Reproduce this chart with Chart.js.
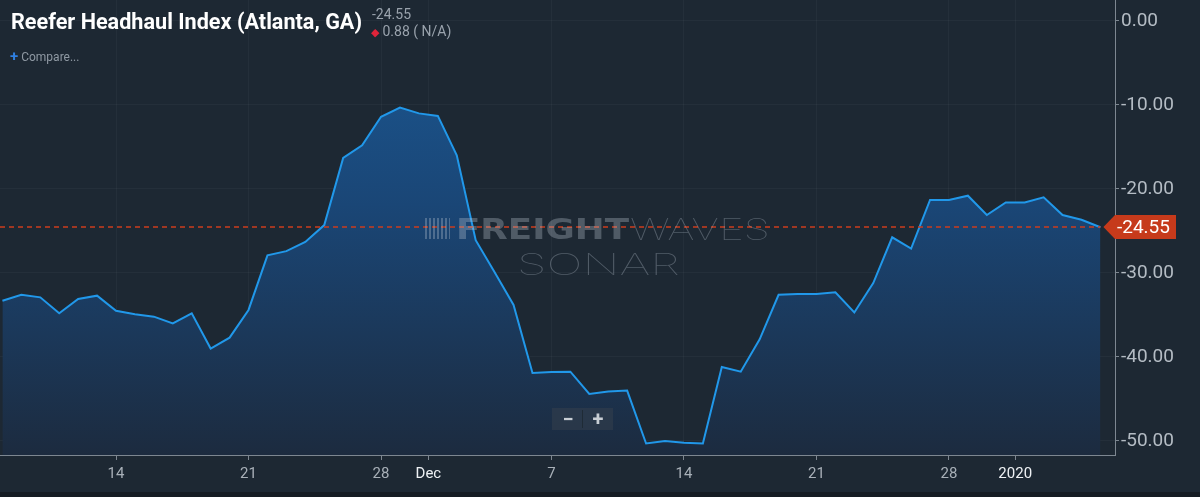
<!DOCTYPE html>
<html>
<head>
<meta charset="utf-8">
<script src="https://cdn.jsdelivr.net/npm/chart.js@4/dist/chart.umd.min.js"></script>
<style>
  html, body { margin: 0; padding: 0; background: #1d2833; overflow: hidden; }
  #wrap { position: relative; width: 1200px; height: 497px; font-family: Roboto, "Noto Sans", sans-serif; }
  canvas { position: absolute; left: 0; top: 0; }
  .ov { position: absolute; white-space: nowrap; transform-origin: 0 50%; }
  #title { left: 11px; top: 9px; font-size: 22px; font-weight: 700; color: #ffffff; line-height: 26px; }
  #last { left: 372px; top: 6px; font-size: 14px; color: #9aa3ad; line-height: 16px; }
  #chg { left: 371px; top: 23px; font-size: 14px; color: #9aa3ad; line-height: 16px; }
  #chg b { color: #e0243a; font-weight: 400; font-size: 11px; }
  #cmp { left: 10px; top: 49px; font-size: 12px; color: #8f99a3; line-height: 14px; }
  #cmp b { color: #2f7fe0; font-size: 15px; font-weight: 700; margin-right: 3px; }
  #wm1 { left: 456px; top: 214px; font-family: "DejaVu Sans", sans-serif; font-weight: 700; font-size: 29px; line-height: 30px; color: rgba(190,200,212,0.32); }
  #wm2 { left: 630px; top: 214px; font-family: Inter, "Open Sans", sans-serif; font-weight: 100; font-size: 30px; line-height: 30px; color: rgba(190,200,212,0.32); }
  #wm3 { left: 517px; top: 249px; font-family: Inter, "Open Sans", sans-serif; font-weight: 100; font-size: 30px; line-height: 30px; color: rgba(190,200,212,0.32); }
  #bars { position: absolute; left: 425px; top: 218px; width: 25px; height: 21px;
          background: repeating-linear-gradient(90deg, rgba(190,200,212,0.32) 0 2px, transparent 2px 4px); }
  #zoomer { position: absolute; left: 552px; top: 408px; width: 61px; height: 22px; background: rgba(52,64,77,0.55); }
  #zoomer span { position: absolute; top: 0; width: 30px; text-align: center; color: #c8ced4; font-size: 20px; font-weight: 700; line-height: 22px; }
  #zoomer i { position: absolute; left: 30px; top: 2px; width: 1px; height: 18px; background: rgba(30,40,50,0.8); }
</style>
</head>
<body>
<div id="wrap">
  <canvas id="chart" width="1200" height="497"></canvas>
  <div id="bars"></div>
  <div class="ov" id="wm1">FREIGHT</div>
  <div class="ov" id="wm2">WAVES</div>
  <div class="ov" id="wm3">SONAR</div>
  <div id="zoomer"><span style="left:1px">&minus;</span><i></i><span style="left:31px">+</span></div>
  <div class="ov" id="title">Reefer Headhaul Index (Atlanta, GA)</div>
  <div class="ov" id="last">-24.55</div>
  <div class="ov" id="chg"><b>&#9670;</b> 0.88 ( N/A)</div>
  <div class="ov" id="cmp"><b>+</b>Compare...</div>
</div>
<script>
// Daily observations
const dates = [
    '2019-11-08', '2019-11-09', '2019-11-10', '2019-11-11', '2019-11-12', '2019-11-13', '2019-11-14',
    '2019-11-15', '2019-11-16', '2019-11-17', '2019-11-18', '2019-11-19', '2019-11-20', '2019-11-21',
    '2019-11-22', '2019-11-23', '2019-11-24', '2019-11-25', '2019-11-26', '2019-11-27', '2019-11-28',
    '2019-11-29', '2019-11-30', '2019-12-01', '2019-12-02', '2019-12-03', '2019-12-04', '2019-12-05',
    '2019-12-06', '2019-12-07', '2019-12-08', '2019-12-09', '2019-12-10', '2019-12-11', '2019-12-12',
    '2019-12-13', '2019-12-14', '2019-12-15', '2019-12-16', '2019-12-17', '2019-12-18', '2019-12-19',
    '2019-12-20', '2019-12-21', '2019-12-22', '2019-12-23', '2019-12-24', '2019-12-25', '2019-12-26',
    '2019-12-27', '2019-12-28', '2019-12-29', '2019-12-30', '2019-12-31', '2020-01-01', '2020-01-02',
    '2020-01-03', '2020-01-04', '2020-01-05'
];
const values = [
    -33.3, -32.6, -32.9, -34.8, -33.1, -32.7, -34.5,
    -34.9, -35.2, -36.0, -34.8, -39.0, -37.7, -34.4,
    -27.9, -27.4, -26.3, -24.3, -16.3, -14.8, -11.4,
    -10.3, -11.0, -11.3, -16.0, -26.1, -29.9, -33.8,
    -41.9, -41.8, -41.75, -44.4, -44.1, -44.0, -50.3,
    -50.0, -50.2, -50.3, -41.2, -41.75, -37.9, -32.6,
    -32.5, -32.5, -32.3, -34.7, -31.2, -25.75, -27.1,
    -21.3, -21.3, -20.8, -23.1, -21.6, -21.6, -21.0,
    -23.1, -23.67, -24.55
];

// Axis ticks (month/year labels sit at the boundary before the 1st)
const xTickDates = ['2019-11-14', '2019-11-21', '2019-11-28', '2019-11-30T12:00', '2019-12-07',
                    '2019-12-14', '2019-12-21', '2019-12-28', '2019-12-31T12:00'];
const xTickLabels = ['14', '21', '28', 'Dec', '7', '14', '21', '28', '2020'];
const yTicks = [-50, -40, -30, -20, -10, 0];
const lastValue = -24.55;

const DAY = 86400000;
const origin = Date.parse('2019-11-01T00:00:00Z');
const toDay = s => (Date.parse(s.length > 10 ? s + ':00Z' : s + 'T00:00:00Z') - origin) / DAY;

const points = dates.map((d, i) => ({ x: toDay(d), y: values[i] }));
const xTicks = xTickDates.map(toDay);

// fitted so the 14th Nov sits at x=116 and days are ~18.93px apart
const xMin = 6.872, xMax = 65.77;

// fit the overlay texts to the widths seen in the reference
function fitWidth(id, w) {
    const el = document.getElementById(id);
    const nat = el.getBoundingClientRect().width;
    el.style.transform = 'scaleX(' + (w / nat) + ')';
}
fitWidth('title', 351);
fitWidth('wm1', 173);
fitWidth('wm2', 140);
fitWidth('wm3', 163);

const overlay = {
    id: 'overlay',
    beforeDraw(chart) {
        const c = chart.ctx;
        c.save();
        c.fillStyle = '#1d2833';
        c.fillRect(0, 0, chart.width, chart.height);
        c.fillStyle = '#151c23';
        c.fillRect(0, 492, chart.width, chart.height - 492);
        c.restore();
    },
    afterDatasetsDraw(chart) {
        const c = chart.ctx;
        const area = chart.chartArea;
        const y = Math.round(chart.scales.y.getPixelForValue(lastValue));
        const xEnd = chart.scales.x.getPixelForValue(points[points.length - 1].x);
        c.save();
        c.strokeStyle = '#cc3c1e';
        c.lineWidth = 1.5;
        c.setLineDash([5, 4]);
        c.beginPath();
        c.moveTo(area.left, y);
        c.lineTo(xEnd, y);
        c.stroke();
        c.setLineDash([]);

        // last value tag
        c.fillStyle = '#c63a1b';
        c.beginPath();
        c.moveTo(xEnd + 3, y);
        c.lineTo(area.right, y - 12);
        c.lineTo(1176, y - 12);
        c.lineTo(1176, y + 12);
        c.lineTo(area.right, y + 12);
        c.closePath();
        c.fill();
        c.fillStyle = '#ffffff';
        c.font = '19px Roboto';
        c.textBaseline = 'middle';
        c.textAlign = 'left';
        c.fillText(lastValue.toFixed(2), 1117, y + 1);
        c.restore();
    }
};

new Chart(document.getElementById('chart'), {
    type: 'line',
    data: {
        datasets: [{
            data: points,
            borderColor: '#2198ea',
            borderWidth: 2,
            pointRadius: 0,
            tension: 0,
            fill: 'start',
            backgroundColor: (ctx) => {
                const area = ctx.chart.chartArea;
                if (!area) return 'rgba(27,80,135,0.8)';
                const g = ctx.chart.ctx.createLinearGradient(0, area.top, 0, area.bottom);
                g.addColorStop(0, '#1b5a96');
                g.addColorStop(0.45, '#1a4676');
                g.addColorStop(1, '#1c2b3f');
                return g;
            }
        }]
    },
    options: {
        responsive: false,
        animation: false,
        devicePixelRatio: 1,
        layout: { padding: 0 },
        plugins: {
            legend: { display: false },
            tooltip: { enabled: false }
        },
        scales: {
            x: {
                type: 'linear',
                min: xMin,
                max: xMax,
                afterBuildTicks: s => { s.ticks = xTicks.map(v => ({ value: v })); },
                afterFit: s => { s.height = 42; s.paddingLeft = 0; s.paddingRight = 0; },
                grid: {
                    color: 'rgba(255,255,255,0.035)',
                    tickColor: '#7d8791',
                    tickLength: 5,
                    drawTicks: true
                },
                border: { display: true, color: '#7d8791', width: 1 },
                ticks: {
                    autoSkip: false,
                    maxRotation: 0,
                    padding: 5,
                    font: { family: 'Roboto', size: 15 },
                    color: ctx => (xTickLabels[ctx.index] === 'Dec' || xTickLabels[ctx.index] === '2020') ? '#eef1f4' : '#a8b0b8',
                    callback: (v, i) => xTickLabels[i]
                }
            },
            y: {
                position: 'right',
                min: -51.67,
                max: 2.5,
                afterBuildTicks: s => { s.ticks = yTicks.map(v => ({ value: v })); },
                afterFit: s => { s.width = 85; s.paddingTop = 0; s.paddingBottom = 0; },
                grid: {
                    color: 'rgba(255,255,255,0.035)',
                    tickColor: '#7d8791',
                    tickLength: 4,
                    drawTicks: true
                },
                border: { display: true, color: '#7d8791', width: 1 },
                ticks: {
                    padding: 2,
                    font: { family: 'Roboto', size: 19 },
                    color: '#b4bcc4',
                    callback: v => v.toFixed(2)
                }
            }
        }
    },
    plugins: [overlay]
});
</script>
</body>
</html>
